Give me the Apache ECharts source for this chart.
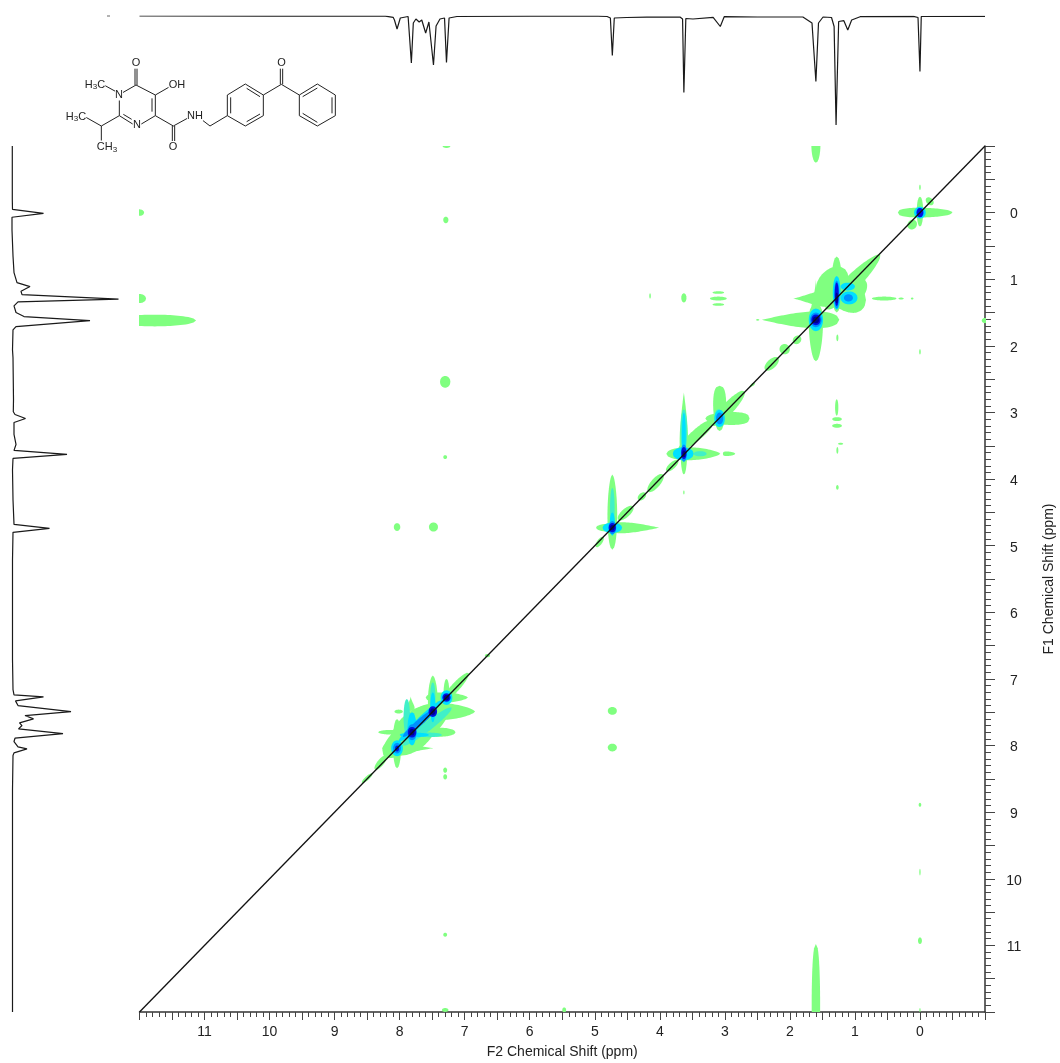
<!DOCTYPE html>
<html><head><meta charset="utf-8">
<style>html,body{margin:0;padding:0;background:#fff}#c{width:1060px;height:1063px}</style>
<script src="https://cdn.jsdelivr.net/npm/echarts@6/dist/echarts.min.js"></script>
</head><body><div id="c"></div>
<script>
// 1D projection along F2: [ppm, intensity]
const topTrace = [[12,0],[10,0.2],[8.22,0.2],[8.10,1.3],[8.08,4],[8.04,13],[7.99,2],[7.87,0.5],[7.82,47],[7.79,7],[7.75,3],[7.70,6],[7.66,4],[7.60,17],[7.55,6],[7.48,49],[7.44,10],[7.38,3],[7.31,2],[7.28,46.5],[7.24,2],[7.12,0.5],[6,0.2],[4.95,0.2],[4.81,0.5],[4.76,2],[4.73,39.5],[4.70,2],[4.51,1.5],[4.2,1.2],[3.69,1],[3.65,3],[3.63,76.5],[3.60,2.5],[3.49,3],[3.18,1.3],[3.07,10.5],[3.01,0.7],[2.5,1],[1.80,1],[1.66,7],[1.60,65.5],[1.56,7],[1.49,1],[1.36,1.5],[1.32,10.5],[1.29,109],[1.25,5.5],[1.17,4.7],[1.11,14],[1.05,4],[0.92,0.7],[0.10,0.3],[0.03,1.5],[0,55.5],[-0.02,0.5],[-1,0.3]];
// 1D projection along F1: [intensity, ppm]
const leftTrace = [[0.3,-1],[0.3,-0.2],[0.5,-0.05],[31.5,0.01],[0,0.07],[0,0.26],[1,0.65],[2,0.9],[5,1.05],[18,1.11],[9,1.18],[10,1.23],[106.5,1.3],[6,1.34],[2,1.4],[4,1.5],[12,1.56],[78,1.62],[4,1.71],[1,1.76],[0.5,2.06],[1,2.18],[1.5,2.81],[1.3,2.99],[3,3.03],[13.5,3.09],[2,3.15],[2,3.33],[4,3.48],[2,3.57],[55,3.63],[1,3.69],[0.5,3.86],[1,4.31],[2,4.68],[37.5,4.74],[1,4.8],[0.5,5.21],[0.5,6.71],[1,7.16],[2,7.24],[31.5,7.27],[3.5,7.33],[6,7.4],[59,7.49],[13,7.55],[21.5,7.6],[7.5,7.66],[10,7.7],[6.5,7.75],[51,7.82],[3,7.89],[2,7.94],[6,8.02],[15,8.05],[2,8.11],[1,8.15],[0.5,8.66],[0.5,12]];
const diagonal = [[12,12],[-1,-1]];
const f2Ticks = [11,10,9,8,7,6,5,4,3,2,1,0];
const f1Ticks = [0,1,2,3,4,5,6,7,8,9,10,11];

// Contour lobes, one list per level: [F2 start, F1 start, F2 end, F1 end, half width, (widest point along lobe)] in ppm
const contourGreen = [
 [12.07,0,11.93,0,.05],[12.1,1.29,11.9,1.29,.07],[12.4,1.62,11.13,1.62,.09],
 [7.34,-1,7.22,-1,.03],[1.6,-1.3,1.6,-.75,.07],[7.33,.11,7.25,.11,.05],[4.15,1.21,4.15,1.29,.012],
 [3.67,1.28,3.59,1.28,.07],[3.23,1.29,2.97,1.29,.03],[3.19,1.2,3.01,1.2,.02],[3.19,1.38,3.01,1.38,.02],
 [0,2.05,0,2.13,.012],[1.27,1.83,1.27,1.93,.016],[-1.05,1.62,-.95,1.62,.04],
 [7.38,2.54,7.22,2.54,.09],[7.33,3.67,7.27,3.67,.03],
 [1.28,2.8,1.28,3.05,.025],[1.35,3.1,1.2,3.1,.03],[1.35,3.2,1.2,3.2,.03],[1.26,3.47,1.18,3.47,.015],[1.27,3.52,1.27,3.62,.015],[1.27,4.09,1.27,4.16,.02],
 [3.63,4.17,3.63,4.23,.01],
 [8.09,4.72,7.99,4.72,.06],[7.55,4.72,7.41,4.72,.07],[4.8,7.48,4.66,7.48,.06],[4.8,8.03,4.66,8.03,.06],
 [7.33,8.37,7.27,8.37,.04],[7.33,8.47,7.27,8.47,.04],[0,8.86,0,8.92,.02],[0,9.85,0,9.95,.01],[0,10.88,0,10.98,.03],
 [7.33,10.84,7.27,10.84,.03],[7.35,11.97,7.25,11.97,.03],[5.5,11.97,5.44,11.97,.04],[1.6,10.98,1.6,13,.065,.45],[0,11.94,0,12,.01],
 [6.69,6.65,6.61,6.65,.025],
 // TMS
 [.34,0,-.5,0,.075,.4],[0,-.24,0,.21,.05],[0,-.42,0,-.34,.012],[-.1,-.22,-.2,-.12,.05],[.17,.24,.07,.12,.07],
 // 1.3 / 1.6 group
 [.61,.63,1.45,1.45,.12,.55],[1.15,.85,1.55,1.25,.2],[.85,1.0,1.2,1.35,.17],[1.28,.66,1.28,1.5,.08],[1.4,1.31,.83,1.31,.2,.65],
 [2.43,1.61,1.24,1.61,.13,.7],[2.52,1.61,2.47,1.61,.012],[1.6,1.0,1.6,1.7,.09,.8],[1.6,1.4,1.6,2.23,.11,.3],[1.95,1.29,1.25,1.29,.13,.75],
 [.74,1.29,.36,1.29,.03],[.33,1.29,.25,1.29,.015],[.14,1.29,.1,1.29,.015],
 [1.84,1.86,1.94,1.96,.06],[2.02,2.0,2.14,2.1,.08],[2.18,2.18,2.38,2.36,.07],[2.54,2.56,2.6,2.6,.02],
 // 3.07
 [3.08,2.6,3.08,3.28,.1,.4],[2.62,3.09,3.3,3.09,.1,.4],[2.7,2.68,3.2,3.2,.09],[3.2,3.14,3.72,3.58,.085,.4],[2.55,2.56,2.62,2.62,.015],
 // 3.63
 [3.63,2.7,3.63,3.75,.065,.7],[3.63,3.4,3.63,3.93,.05,.4],[3.07,3.62,3.9,3.62,.1,.6],[3.03,3.62,2.84,3.62,.035,.3],
 [3.72,3.72,3.9,3.88,.05],[3.95,3.93,4.18,4.19,.07],[4.22,4.21,4.33,4.31,.05],[4.41,4.41,4.64,4.61,.065],
 // 4.73
 [4.73,3.93,4.73,5.06,.075,.55],[4.01,4.73,4.85,4.73,.085,.7],[4.6,4.73,4.98,4.73,.06],[4.87,4.87,4.98,5.02,.04],
 // aromatic group
 [6.94,6.91,7.35,7.35,.065],[7.28,7.0,7.28,7.45,.045],[6.95,7.28,7.6,7.28,.08,.6],
 [7.49,6.95,7.49,7.65,.075,.55],[6.84,7.49,7.75,7.49,.13,.6],[7.95,7.49,8.08,7.49,.03],
 [7.25,7.4,8.25,8.15,.22],[7.45,7.45,8.1,8.1,.27],[7.5,7.75,8.0,7.75,.22],[7.14,7.8,7.65,7.8,.07],[8.33,7.8,7.95,7.8,.035],[7.83,7.26,7.83,7.48,.06,.8],
 [8.04,7.6,8.04,8.34,.065],[7.48,8.04,8.27,8.04,.09,.75],[8.2,8.15,8.38,8.36,.05],[8.42,8.42,8.58,8.56,.03]
];
const contourTeal = [
 [3.48,3.62,3.28,3.62,.04],[3.63,2.95,3.63,3.6,.05],[4.73,4.13,4.73,4.75,.035],[3.1,2.95,3.1,3.22,.06],
 [7.89,7.3,7.89,7.85,.05],[7.75,7.84,7.35,7.84,.035],[7.49,7.05,7.49,7.5,.04],[7.2,7.43,7.95,8.0,.07]
];
const contourCyan = [
 [-.09,0,.09,0,.09],[1.6,1.44,1.6,1.78,.11],[1.28,.95,1.28,1.46,.06],[1.22,1.28,.96,1.28,.1],[1.22,1.11,1.0,1.11,.06],
 [3.08,2.96,3.08,3.22,.08],[3.63,3.0,3.63,3.75,.03],[3.48,3.62,3.8,3.62,.1],[4.73,4.5,4.73,4.85,.04],[4.58,4.73,4.88,4.73,.08],
 [7.35,7.32,8.02,7.95,.055],[7.81,7.5,7.81,8.0,.07],[7.49,7.2,7.49,7.65,.04],[8.04,7.92,8.04,8.16,.09],[7.28,7.17,7.28,7.39,.09],[7.55,7.84,8.0,7.84,.035]
];
const contourAzure = [
 [-.06,0,.06,0,.07],[1.6,1.5,1.6,1.72,.09],[1.28,1.02,1.28,1.44,.04],[1.17,1.28,1.03,1.28,.055],
 [3.08,3.0,3.08,3.18,.055],[3.63,3.48,3.63,3.74,.045],[4.73,4.63,4.73,4.83,.06],
 [7.45,7.45,7.95,7.87,.05],[7.81,7.68,7.81,7.92,.07],[8.04,7.96,8.04,8.12,.06],[7.28,7.21,7.28,7.35,.065]
];
const contourBlue = [
 [0,-.07,0,.07,.05],[1.6,1.53,1.6,1.69,.07],[1.28,1.05,1.28,1.4,.03],[3.63,3.52,3.63,3.7,.04],[4.73,4.66,4.73,4.8,.055],
 [7.49,7.41,7.49,7.57,.065],[7.81,7.72,7.81,7.88,.065],[8.04,8.0,8.04,8.09,.03],[7.28,7.22,7.28,7.34,.06]
];
const contourNavy = [
 [1.6,1.56,1.6,1.66,.05],[1.28,1.2,1.28,1.36,.02],[3.63,3.57,3.63,3.67,.025],[4.73,4.69,4.73,4.77,.035],
 [7.49,7.44,7.49,7.54,.04],[7.81,7.75,7.81,7.85,.04],[7.28,7.24,7.28,7.32,.04]
];

// Structure drawing: bond list in picture units (x1,y1,x2,y2), thirds of a pixel
const bonds = [
 [405,205,405,255],[411,205,411,255],[408,255,368,278],[358,295,358,347],[358,347,398,372],[370,343,395,358],
 [424,372,466,347],[466,347,466,285],[456,335,456,295],[466,285,408,255],[466,285,506,262],[348,275,310,254],
 [358,347,304,378],[304,378,258,352],[304,378,304,428],[466,347,520,378],[517,378,517,425],[524,378,524,425],
 [520,378,562,355],[600,355,630,378],[630,378,682,347],
 [682,347,682,285],[682,285,736,252],[736,252,790,285],[790,285,790,347],[790,347,736,378],[736,378,682,347],
 [692,340,692,292],[740,265,780,290],[740,365,780,342],
 [790,285,844,253],[841,205,841,253],[848,205,848,253],[844,253,898,285],
 [898,285,898,347],[898,347,952,378],[952,378,1006,347],[1006,347,1006,285],[1006,285,952,252],[952,252,898,285],
 [908,290,952,264],[908,340,952,367],[996,292,996,340]
];
const atoms = [
 ['O',136,63],['{a|H}{s|3}{a|C}',95,84.5],['N',119,95],['OH',177,84.5],['{a|H}{s|3}{a|C}',76,116.5],['N',137,125],
 ['NH',195,115.5],['{a|CH}{s|3}',107,147],['O',173,146.5],['O',281.5,63]
];

const FONT = '"Liberation Sans", Arial, sans-serif';
function lobes(list, color, power) {
  return {
    type: 'custom', xAxisIndex: 0, yAxisIndex: 0, clip: true, silent: true, animation: false,
    data: list.map(r => [r[0], r[1], r[2], r[3], r[4], r.length > 5 ? r[5] : 0.5]),
    encode: {x: [0, 2], y: [1, 3]},
    renderItem: function (params, api) {
      const a = api.coord([api.value(0), api.value(1)]);
      const b = api.coord([api.value(2), api.value(3)]);
      const w = api.size([api.value(4), api.value(4)])[0];
      const k = Math.log(0.5) / Math.log(api.value(5));
      const dx = b[0] - a[0], dy = b[1] - a[1], L = Math.hypot(dx, dy) || 1;
      const nx = -dy / L, ny = dx / L, up = [], down = [], n = 32;
      for (let i = 0; i <= n; i++) {
        const t = i / n, s = 2 * Math.pow(t, k) - 1, f = w * Math.pow(Math.max(0, 1 - s * s), power);
        const px = a[0] + dx * t, py = a[1] + dy * t;
        up.push([px + nx * f, py + ny * f]);
        down.unshift([px - nx * f, py - ny * f]);
      }
      return {type: 'polygon', shape: {points: up.concat(down)}, style: {fill: color, stroke: null}};
    }
  };
}
function lineSeries(data, xi, yi, extra) {
  return Object.assign({type: 'line', data: data, xAxisIndex: xi, yAxisIndex: yi, showSymbol: false, symbol: 'none', silent: true,
    animation: false, smooth: false, lineStyle: {color: '#1a1a1a', width: 1.2}, z: 5}, extra || {});
}
const chart = echarts.init(document.getElementById('c'), null, {renderer: 'canvas'});
const bondEls = bonds.map(b => ({type: 'line', silent: true, shape: {x1: b[0] / 3, y1: b[1] / 3, x2: b[2] / 3, y2: b[3] / 3}, style: {stroke: '#222', lineWidth: 1}}));
const atomEls = atoms.map(a => ({type: 'text', silent: true, x: a[1], y: a[2], style: {text: a[0], fill: '#222', align: 'center', verticalAlign: 'middle',
  font: '11px ' + FONT, backgroundColor: '#fff',
  rich: {a: {font: '11px ' + FONT, fill: '#222', backgroundColor: '#fff'}, s: {font: '8px ' + FONT, fill: '#222', verticalAlign: 'bottom', backgroundColor: '#fff', padding: [5, 0, 0, 0]}}}}));
const stubEl = {type: 'rect', silent: true, shape: {x: 107, y: 15.5, width: 3, height: 1}, style: {fill: '#666'}};
chart.setOption({
  backgroundColor: '#fff', animation: false,
  textStyle: {fontFamily: FONT},
  grid: [
    {left: 139.5, top: 146, width: 845.5, height: 866, outerBoundsMode: 'none'},
    {left: 139.5, top: 16, width: 845.5, height: 110, outerBoundsMode: 'none'},
    {left: 12, top: 146, width: 110, height: 866, outerBoundsMode: 'none'}
  ],
  xAxis: [
    {type: 'value', gridIndex: 0, inverse: true, min: -1, max: 12, interval: 0.5, position: 'bottom',
     name: 'F2 Chemical Shift (ppm)', nameLocation: 'middle', nameGap: 33, nameTextStyle: {fontSize: 14, color: '#222'},
     axisLine: {onZero: false, lineStyle: {color: '#333', width: 1.5}},
     axisTick: {length: 8, lineStyle: {color: '#444', width: 1}},
     minorTick: {show: true, splitNumber: 5, length: 5, lineStyle: {color: '#444', width: 1}},
     splitLine: {show: false}, minorSplitLine: {show: false},
     axisLabel: {fontSize: 14, color: '#222', margin: 13, showMinLabel: true, showMaxLabel: true, formatter: v => f2Ticks.includes(v) ? String(v) : ''}},
    {type: 'value', gridIndex: 1, inverse: true, min: -1, max: 12, show: false},
    {type: 'value', gridIndex: 2, min: 0, max: 110, show: false}
  ],
  yAxis: [
    {type: 'value', gridIndex: 0, inverse: true, min: -1, max: 12, interval: 0.5, position: 'right',
     name: 'F1 Chemical Shift (ppm)', nameLocation: 'middle', nameGap: 57, nameRotate: 90, nameTextStyle: {fontSize: 14, color: '#222'},
     axisLine: {onZero: false, lineStyle: {color: '#333', width: 1.5}},
     axisTick: {length: 10, lineStyle: {color: '#444', width: 1}},
     minorTick: {show: true, splitNumber: 5, length: 6, lineStyle: {color: '#444', width: 1}},
     splitLine: {show: false}, minorSplitLine: {show: false},
     axisLabel: {fontSize: 14, color: '#222', margin: 29, align: 'center', verticalAlign: 'top', lineHeight: 4, formatter: v => f1Ticks.includes(v) ? String(v) : ''}},
    {type: 'value', gridIndex: 1, inverse: true, min: 0, max: 110, show: false},
    {type: 'value', gridIndex: 2, inverse: true, min: -1, max: 12, show: false}
  ],
  series: [
    lobes(contourGreen, '#80ff80', 0.5),
    lobes(contourTeal, '#40f0c8', 0.5),
    lobes(contourCyan, '#00e0ff', 0.5),
    lobes(contourAzure, '#0090ff', 0.5),
    lobes(contourBlue, '#0010e0', 0.45),
    lobes(contourNavy, '#000090', 0.4),
    lineSeries(diagonal, 0, 0, {lineStyle: {color: '#111', width: 1.3}, z: 6}),
    lineSeries(topTrace, 1, 1),
    lineSeries(leftTrace, 2, 2)
  ],
  graphic: {elements: bondEls.concat(atomEls, [stubEl])}
});
</script></body></html>
